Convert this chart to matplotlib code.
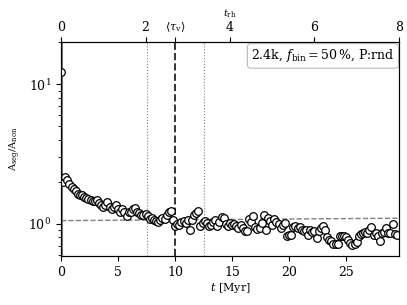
import numpy as np
import matplotlib
matplotlib.use("Agg")
import matplotlib.pyplot as plt

plt.rcParams['font.family'] = ['DejaVu Serif']
plt.rcParams['mathtext.fontset'] = 'dejavuserif'

# data: A_seg/A_non ratio sampled every dt Myr
dt = 0.185
ratio = [12.2, 2.0, 2.16, 2.06, 1.93, 1.84, 1.78, 1.72, 1.64, 1.61,
         1.61, 1.56, 1.53, 1.51, 1.48, 1.46, 1.45, 1.47, 1.41, 1.37,
         1.32, 1.37, 1.44, 1.33, 1.28, 1.32, 1.37, 1.28, 1.22, 1.28,
         1.22, 1.14, 1.22, 1.22, 1.27, 1.29, 1.22, 1.20, 1.16, 1.15,
         1.18, 1.14, 1.09, 1.10, 1.06, 1.05, 1.03, 1.07, 1.10, 1.09,
         1.16, 1.21, 1.24, 1.07, 0.97, 1.0, 0.985, 1.025, 1.04, 1.015,
         1.07, 0.906, 1.07, 1.16, 1.20, 1.24, 0.97, 1.01, 1.05, 1.015,
         0.97, 0.985, 1.03, 1.07, 0.96, 1.03, 1.12, 1.11, 1.0, 0.96,
         1.015, 0.975, 1.0, 0.97, 0.93, 0.985, 0.94, 0.884, 0.89, 1.09,
         1.03, 1.14, 0.95, 0.92, 0.936, 1.015, 1.16, 0.906, 1.10, 1.04,
         0.985, 1.085, 1.03, 1.0, 0.936, 0.985, 1.015, 0.82, 0.83, 0.835,
         0.95, 0.97, 0.936, 0.944, 0.91, 0.884, 0.906, 0.835, 0.906, 0.877,
         0.884, 0.794, 0.89, 0.93, 0.97, 0.906, 0.81, 0.768, 0.75, 0.72,
         0.72, 0.715, 0.82, 0.82, 0.815, 0.81, 0.768, 0.73, 0.71, 0.715,
         0.743, 0.82, 0.84, 0.86, 0.88, 0.86, 0.906, 0.95, 0.835, 0.86,
         0.815, 0.75, 0.86, 0.88, 0.936, 0.86, 0.86, 1.0, 0.85, 0.835]
t = np.arange(len(ratio)) * dt

fit_t = [0.0, 29.6]
fit_y = [1.055, 1.098]

t_rh = 3.7
tau_v = 10.0
tau_lo, tau_hi = 7.5, 12.5
top_ticks = [0, 2, 4, 6, 8]
box_text = r'2.4k, $f_{\rm bin}=50\,\%$, P:rnd'

fig = plt.figure(figsize=(4.07, 3.05), dpi=100)
ax = fig.add_axes([0.150, 0.161, 0.830, 0.701])

ax.axvline(0, color='gray', lw=2.2, zorder=1)
ax.axvline(tau_lo, color='gray', ls=':', lw=0.8)
ax.axvline(tau_hi, color='gray', ls=':', lw=0.8)
ax.axvline(tau_v, color='#333333', ls='--', lw=1.4)
ax.plot(fit_t, fit_y, color='gray', ls='--', lw=1.0)

ax.plot(t, ratio, 'o', mfc='white', mec='black', ms=5.5, mew=0.9, zorder=3)

ax.set_yscale('log')
ax.set_xlim(0, 29.6)
ax.set_ylim(0.59, 20)
ax.set_xticks([0, 5, 10, 15, 20, 25])
ax.tick_params(labelsize=9)
ax.set_xlabel(r'$t$ [Myr]', fontsize=8, labelpad=2)
ax.set_ylabel(r'$\mathrm{A_{seg}/A_{non}}$', fontsize=7)

ax2 = ax.twiny()
ax2.set_xlim(ax.get_xlim())
ax2.set_xticks([k * t_rh for k in top_ticks] + [tau_v])
ax2.set_xticklabels([str(k) for k in top_ticks] + [r'$\langle\tau_{\rm v}\rangle$'])
ax2.tick_params(labelsize=9, pad=2)
ax2.get_xticklabels()[-1].set_fontsize(8)
ax2.set_xlabel(r'$t_{\rm rh}$', fontsize=7, labelpad=3)

ax.text(0.988, 0.975, box_text, transform=ax.transAxes, ha='right', va='top',
        fontsize=9,
        bbox=dict(boxstyle='round,pad=0.3', fc='white', ec='#bbbbbb', lw=0.8))

fig.savefig('out.png', dpi=100)
